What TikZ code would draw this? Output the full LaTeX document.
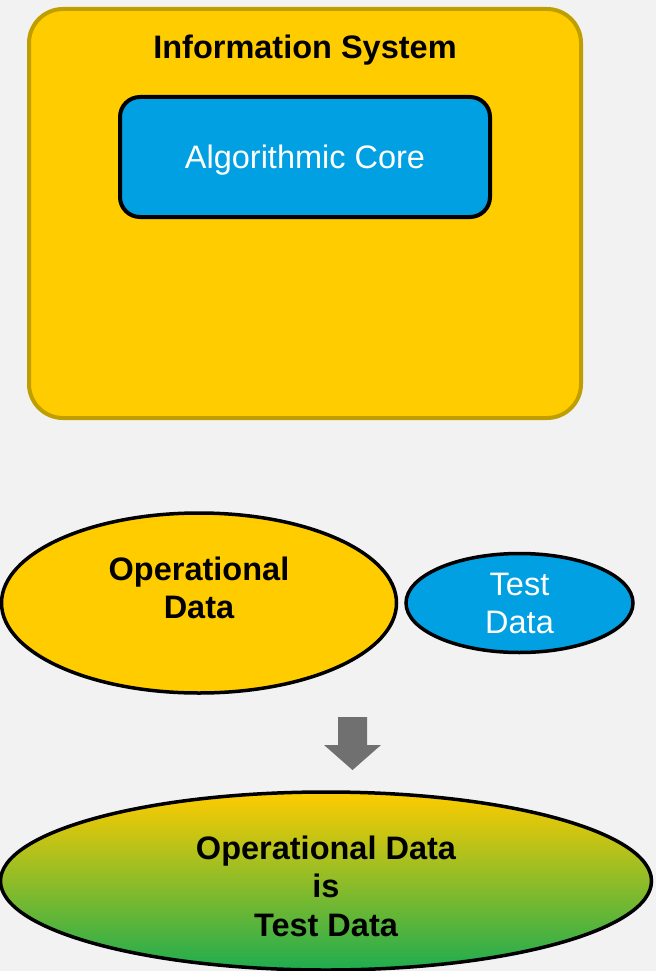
\documentclass[tikz,border=0pt]{standalone}
\usepackage{fontspec}
\setmainfont{Liberation Sans}
\usetikzlibrary{shapes.geometric}
\definecolor{bgpaper}{RGB}{242,242,242}
\definecolor{sysyellow}{RGB}{255,204,0}
\definecolor{sysgold}{RGB}{191,158,0}
\definecolor{coreblue}{RGB}{0,160,226}
\definecolor{datagreen}{RGB}{30,172,80}
\definecolor{arrowgray}{RGB}{112,112,112}
\tikzset{
  bigtext/.style={font=\fontsize{32.5}{38}\selectfont, align=center},
  dataellipse/.style={ellipse, draw=black, line width=3.5pt, inner sep=0pt},
}
\begin{document}
\begin{tikzpicture}[x=1pt,y=-1pt]
  % page background
  \fill[bgpaper] (0,0) rectangle (656,971);
  \useasboundingbox (0,0) rectangle (656,971);

  % information system container
  \draw[sysgold, fill=sysyellow, line width=4pt, rounded corners=34pt]
    (29,9) rectangle (581,418);
  \node[bigtext, font=\fontsize{32.5}{38}\selectfont\bfseries] (title) at (305,50) {Information System};

  % algorithmic core
  \node[draw=black, fill=coreblue, line width=4pt, rounded corners=20pt,
        minimum width=370pt, minimum height=120pt, inner sep=0pt] (core) at (305,157) {};
  \node[text=white, bigtext] (coretext) at (305,160) {Algorithmic Core};

  % data sources
  \node[dataellipse, fill=sysyellow, minimum width=395pt, minimum height=180pt] (opdata) at (199,603) {};
  \node[bigtext, font=\fontsize{32.5}{38}\selectfont\bfseries] (optext) at (199,588) {Operational\\Data};

  \node[dataellipse, fill=coreblue, minimum width=227pt, minimum height=99pt,
        text=white, bigtext] (testdata) at (519.5,603) {Test\\Data};

  % block arrow
  \fill[arrowgray] (338,717) -- (367,717) -- (367,745) -- (381,745)
    -- (352.5,770) -- (324,745) -- (338,745) -- cycle;
  \coordinate (arrowtip) at (352.5,770);

  % merged result
  \node[dataellipse, top color=sysyellow, bottom color=datagreen,
        minimum width=651pt, minimum height=178pt] (merged) at (326,881) {};
  \node[bigtext, font=\fontsize{32.5}{38.5}\selectfont\bfseries] (mergedtext) at (326,886)
    {Operational Data\\is\\Test Data};
\end{tikzpicture}
\end{document}
